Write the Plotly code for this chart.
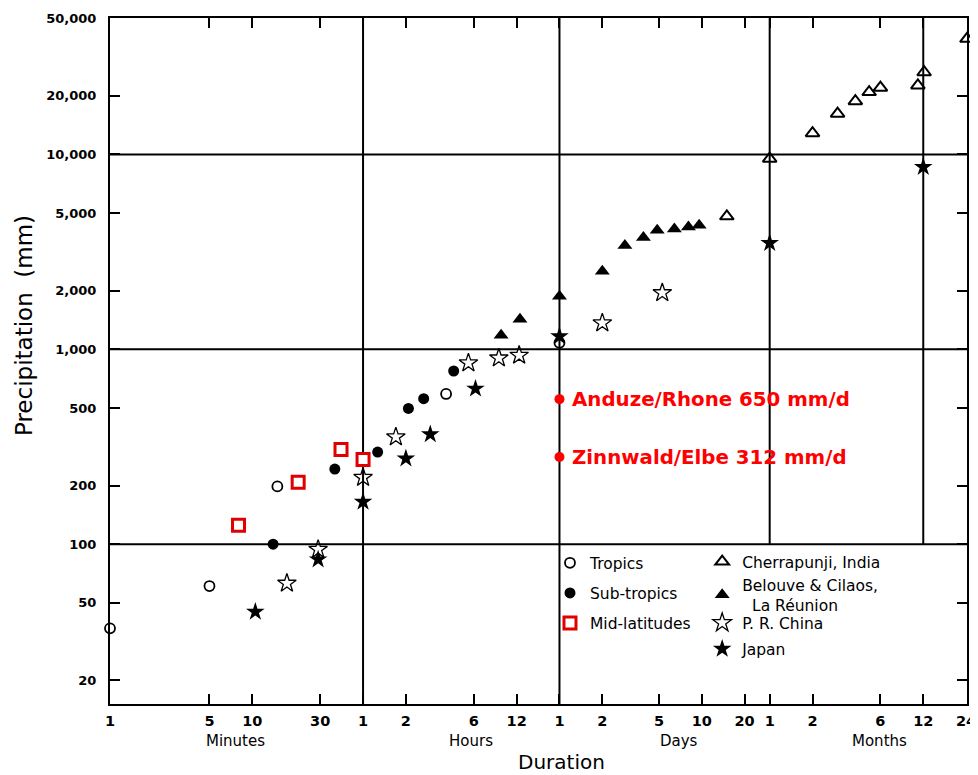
import math
import plotly.graph_objects as go

# ---------------- data (durations in minutes, precipitation in mm) ----------------
tropics_dur = [1, 5, 15, 230, 1440]
tropics_mm = [37, 61, 198, 590, 1080]

subtropics_dur = [14, 38, 76, 125, 160, 260]
subtropics_mm = [100, 243, 297, 497, 558, 774]

midlat_dur = [8, 21, 42, 60]
midlat_mm = [125, 208, 306, 272]

cherra_dur = [21600, 43200, 86400, 129600, 172800, 216000, 259200, 475200, 525600, 1051200]
cherra_mm = [4810, 9510, 12850, 16190, 18760, 20880, 21990, 22600, 26400, 39200]

reunion_dur = [560, 760, 1440, 2880, 4150, 5600, 7000, 9240, 11600, 13800]
reunion_mm = [1180, 1426, 1870, 2512, 3405, 3750, 4077, 4140, 4240, 4325]

china_dur = [17.5, 29, 60, 102, 330, 540, 750, 2880, 7600]
china_mm = [63, 94, 220, 355, 851, 902, 931, 1365, 1950]

japan_dur = [10.5, 29, 60, 120, 178, 370, 1440, 43200, 518400]
japan_mm = [45, 83.5, 165, 275, 366, 628, 1166, 3508, 8610]

red_dur = [1440, 1440]
red_mm = [555, 280]
red_labels = ["Anduze/Rhone 650 mm/d", "Zinnwald/Elbe 312 mm/d"]

x_tick_vals = [1, 5, 10, 30, 60, 120, 360, 720, 1440, 2880, 7200, 14400, 28800,
               43200, 86400, 259200, 518400, 1036800]
x_tick_text = ["1", "5", "10", "30", "1", "2", "6", "12", "1", "2", "5", "10", "20",
               "1", "2", "6", "12", "24"]
y_tick_vals = [20, 50, 100, 200, 500, 1000, 2000, 5000, 10000, 20000, 50000]
y_tick_text = ["20", "50", "100", "200", "500", "1,000", "2,000", "5,000",
               "10,000", "20,000", "50,000"]

grid_x_full = [60, 1440]          # 1 hour, 1 day
grid_x_upper = [43200, 518400]    # 1 month, 1 year (above 100 mm only)
grid_y = [100, 1000, 10000]

unit_labels = ["Minutes", "Hours", "Days", "Months"]

FONT = "DejaVu Sans"
X_RANGE = [0, 6.022]
Y_RANGE = [1.18, 4.70]

fig = go.Figure()


def add(name, xs, ys, symbol, size, color, line_color, line_w, legend):
    fig.add_trace(go.Scatter(
        x=xs, y=ys, mode="markers", name=name, legend=legend, legendgroup=name,
        marker=dict(symbol=symbol, size=size, color=color,
                    line=dict(color=line_color, width=line_w)),
        cliponaxis=False,
    ))


add("Tropics", tropics_dur, tropics_mm, "circle-open", 10, "black", "black", 1.8, "legend")
add("Sub-tropics", subtropics_dur, subtropics_mm, "circle", 11, "black", "black", 0, "legend")
add("Mid-latitudes", midlat_dur, midlat_mm, "square", 12, "white", "#e00000", 3, "legend")
add("Cherrapunji, India", cherra_dur, cherra_mm, "triangle-up-open", 12, "black", "black", 2, "legend2")
add("Belouve & Cilaos,<br>  La Réunion", reunion_dur, reunion_mm, "triangle-up", 13, "black", "black", 0, "legend2")
add("P. R. China", china_dur, china_mm, "star-open", 14, "black", "black", 1.3, "legend3")
add("Japan", japan_dur, japan_mm, "star", 14, "black", "black", 0, "legend3")

fig.add_trace(go.Scatter(
    x=red_dur, y=red_mm, mode="markers", showlegend=False,
    marker=dict(symbol="circle", size=10, color="#ff0000"),
))

shapes = []
for gx in grid_x_full:
    shapes.append(dict(type="line", xref="x", yref="paper", x0=gx, x1=gx, y0=0, y1=1,
                       line=dict(color="black", width=2), layer="below"))
for gx in grid_x_upper:
    shapes.append(dict(type="line", xref="x", yref="y", x0=gx, x1=gx, y0=grid_y[0],
                       y1=10 ** Y_RANGE[1], line=dict(color="black", width=2), layer="below"))
for gy in grid_y:
    shapes.append(dict(type="line", xref="paper", yref="y", x0=0, x1=1, y0=gy, y1=gy,
                       line=dict(color="black", width=2), layer="below"))

annotations = []
for d, v, t in zip(red_dur, red_mm, red_labels):
    annotations.append(dict(x=math.log10(d), y=math.log10(v), xref="x", yref="y",
                            text="<b>" + t + "</b>", showarrow=False, xanchor="left",
                            xshift=11, font=dict(family=FONT, size=19.8, color="#ff0000")))

unit_pos = [0.146, 0.421, 0.664, 0.898]
for t, px in zip(unit_labels, unit_pos):
    annotations.append(dict(x=px, y=-0.054, xref="paper", yref="paper", text=t,
                            xanchor="center", yanchor="middle",
                            showarrow=False, font=dict(family=FONT, size=15, color="black")))

annotations.append(dict(x=0.527, y=-0.0845, xref="paper", yref="paper", text="Duration",
                        xanchor="center", yanchor="middle",
                        showarrow=False, font=dict(family=FONT, size=20, color="black")))
annotations.append(dict(x=-0.1003, y=0.551, xref="paper", yref="paper",
                        text="Precipitation  (mm)", textangle=-90,
                        xanchor="center", yanchor="middle",
                        showarrow=False, font=dict(family=FONT, size=23, color="black")))

axis_common = dict(
    type="log", showgrid=False, zeroline=False, showline=True, linecolor="black",
    linewidth=2, mirror="ticks", ticks="inside", ticklen=10, tickwidth=2,
    tickcolor="black", automargin=False,
)

legend_font = dict(family=FONT, size=15.5, color="black")

# The page body has an 8px default margin, so the figure is 8px smaller.
fig.update_layout(
    width=970, height=767,
    margin=dict(l=102, r=11, t=10, b=71),
    paper_bgcolor="white", plot_bgcolor="white",
    font=dict(family=FONT, color="black"),
    xaxis=dict(axis_common, range=X_RANGE, tickvals=x_tick_vals, ticktext=x_tick_text,
               ticklabelstandoff=3,
               tickfont=dict(family=FONT, size=14.5, color="black", weight="bold")),
    yaxis=dict(axis_common, range=Y_RANGE, tickvals=y_tick_vals, ticktext=y_tick_text,
               tickfont=dict(family=FONT, size=13, color="black", weight="bold"),
               ticklabelstandoff=9),
    shapes=shapes,
    annotations=annotations,
    legend=dict(x=0.5134, y=0.230, xanchor="left", yanchor="top", bgcolor="rgba(0,0,0,0)",
                tracegroupgap=7, font=legend_font),
    legend2=dict(x=0.691, y=0.2318, xanchor="left", yanchor="top", bgcolor="rgba(0,0,0,0)",
                 tracegroupgap=0, font=legend_font),
    legend3=dict(x=0.691, y=0.1426, xanchor="left", yanchor="top", bgcolor="rgba(0,0,0,0)",
                 tracegroupgap=3, font=legend_font),
    showlegend=True,
)

fig.write_html("out.html")
